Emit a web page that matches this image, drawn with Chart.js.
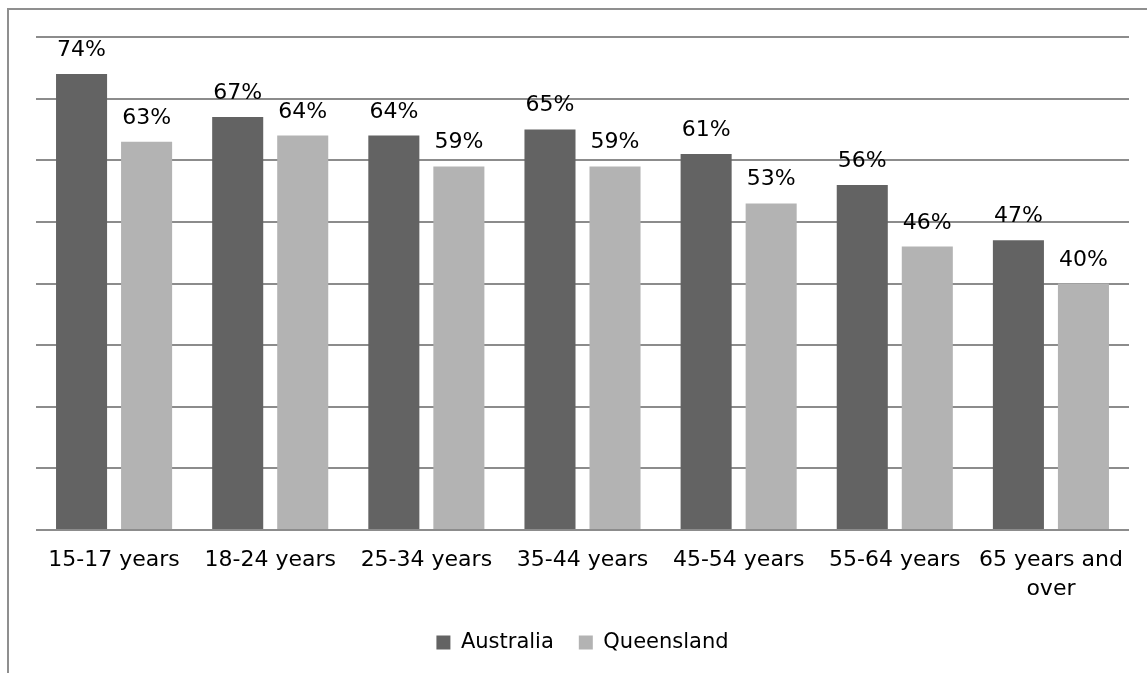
<!DOCTYPE html>
<html>
<head>
<meta charset="utf-8">
<script src="https://cdn.jsdelivr.net/npm/chart.js@4.4.1/dist/chart.umd.min.js"></script>
<style>
  html, body { margin: 0; padding: 0; background: #fff; width: 1147px; height: 673px; overflow: hidden; }
  #frame { position: absolute; left: 7px; top: 8px; width: 1200px; height: 700px;
           border-left: 2px solid #8f8f8f; border-top: 2px solid #8f8f8f; box-sizing: border-box; }
  #wrap { position: absolute; left: 0; top: 0; width: 1147px; height: 673px; }
</style>
</head>
<body>
<div id="frame"></div>
<div id="wrap"><canvas id="c" width="1147" height="673"></canvas></div>
<script>
const categories = ['15-17 years', '18-24 years', '25-34 years', '35-44 years', '45-54 years', '55-64 years', ['65 years and', 'over']];
const australia = [74, 67, 64, 65, 61, 56, 47];
const queensland = [63, 64, 59, 59, 53, 46, 40];
const seriesNames = ['Australia', 'Queensland'];
const yTicks = { min: 0, max: 80, step: 10 };

const FONT = '"DejaVu Sans", sans-serif';

const valueLabels = {
  id: 'valueLabels',
  afterDatasetsDraw(chart) {
    const ctx = chart.ctx;
    ctx.save();
    ctx.font = '22px ' + FONT;
    ctx.fillStyle = '#000';
    ctx.textAlign = 'center';
    ctx.textBaseline = 'alphabetic';
    chart.data.datasets.forEach((ds, i) => {
      chart.getDatasetMeta(i).data.forEach((bar, j) => {
        ctx.fillText(ds.data[j] + '%', bar.x, bar.y - 18);
      });
    });
    ctx.restore();
  }
};

new Chart(document.getElementById('c'), {
  type: 'bar',
  data: {
    labels: categories,
    datasets: [
      { label: seriesNames[0], data: australia, backgroundColor: '#636363', borderWidth: 0 },
      { label: seriesNames[1], data: queensland, backgroundColor: '#b3b3b3', borderWidth: 0 }
    ]
  },
  plugins: [valueLabels],
  options: {
    responsive: false,
    animation: false,
    devicePixelRatio: 1,
    layout: { padding: { left: 36, right: 18, top: 37, bottom: 10 } },
    datasets: { bar: { barPercentage: 0.785, categoryPercentage: 0.833 } },
    scales: {
      x: {
        grid: { display: false, drawTicks: false },
        border: { display: false },
        ticks: {
          color: '#000',
          font: { family: FONT, size: 22, lineHeight: 1.3 },
          padding: 16,
          autoSkip: false,
          maxRotation: 0,
          minRotation: 0
        },
        afterFit: (s) => { s.height = 77; }
      },
      y: {
        min: yTicks.min, max: yTicks.max,
        ticks: { display: false, stepSize: yTicks.step },
        grid: { color: '#8c8c8c', lineWidth: 2, drawTicks: false },
        border: { display: false }
      }
    },
    plugins: {
      legend: {
        position: 'bottom',
        labels: {
          color: '#000',
          boxWidth: 14, boxHeight: 14,
          padding: 25,
          font: { family: FONT, size: 21 }
        }
      },
      tooltip: { enabled: false },
      title: { display: false }
    }
  }
});
</script>
</body>
</html>
